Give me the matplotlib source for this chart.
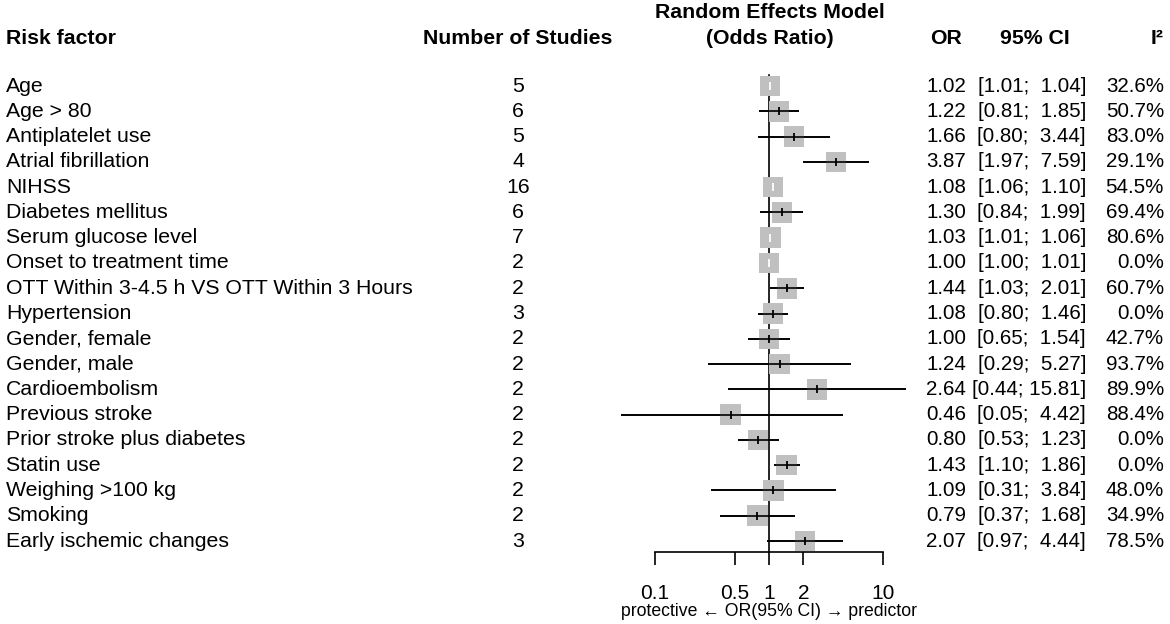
import math
import matplotlib.pyplot as plt
from matplotlib.transforms import blended_transform_factory

plt.rcParams['font.family'] = ['Liberation Sans', 'DejaVu Sans']

factors = ["Age", "Age > 80", "Antiplatelet use", "Atrial fibrillation", "NIHSS",
           "Diabetes mellitus", "Serum glucose level", "Onset to treatment time",
           "OTT Within 3-4.5 h VS OTT Within 3 Hours", "Hypertension", "Gender, female",
           "Gender, male", "Cardioembolism", "Previous stroke", "Prior stroke plus diabetes",
           "Statin use", "Weighing >100 kg", "Smoking", "Early ischemic changes"]
n_studies = [5, 6, 5, 4, 16, 6, 7, 2, 2, 3, 2, 2, 2, 2, 2, 2, 2, 2, 3]
odds = [1.02, 1.22, 1.66, 3.87, 1.08, 1.30, 1.03, 1.00, 1.44, 1.08, 1.00, 1.24, 2.64,
        0.46, 0.80, 1.43, 1.09, 0.79, 2.07]
lower = [1.01, 0.81, 0.80, 1.97, 1.06, 0.84, 1.01, 1.00, 1.03, 0.80, 0.65, 0.29, 0.44,
         0.05, 0.53, 1.10, 0.31, 0.37, 0.97]
upper = [1.04, 1.85, 3.44, 7.59, 1.10, 1.99, 1.06, 1.01, 2.01, 1.46, 1.54, 5.27, 15.81,
         4.42, 1.23, 1.86, 3.84, 1.68, 4.44]
i2 = [32.6, 50.7, 83.0, 29.1, 54.5, 69.4, 80.6, 0.0, 60.7, 0.0, 42.7, 93.7, 89.9,
      88.4, 0.0, 0.0, 48.0, 34.9, 78.5]
tick_vals = [0.1, 0.5, 1, 2, 10]
tick_labels = ["0.1", "0.5", "1", "2", "10"]

W, H = 1170, 624
row0, step = 86, 25.28   # pixel y of first row, row spacing
x1, decade = 769, 114    # pixel x of OR = 1, pixels per decade


def row(py):
    # pixel y -> row coordinate
    return (py - row0) / step


def fx(px):
    return px / W


fig = plt.figure(figsize=(W / 100, H / 100), dpi=100)
ax_l, ax_r = 600, 940
ax = fig.add_axes([ax_l / W, 0, (ax_r - ax_l) / W, 1])
ax.set_xscale('log')
ax.set_xlim(10 ** ((ax_l - x1) / decade), 10 ** ((ax_r - x1) / decade))
ax.set_ylim(row(H), row(0))
ax.patch.set_alpha(0)
for s in ['top', 'left', 'right']:
    ax.spines[s].set_visible(False)
ax.spines['bottom'].set_position(('data', row(552)))
ax.spines['bottom'].set_bounds(0.1, 10)
ax.spines['bottom'].set_linewidth(1.2)
ax.set_yticks([])
ax.set_xticks(tick_vals)
ax.set_xticklabels(tick_labels)
ax.minorticks_off()
ax.tick_params(axis='x', direction='out', length=9.4, width=1.2, pad=13.5, labelsize=15)

ys = list(range(len(factors)))
box = 14.8  # box side in points

# reference line at OR = 1
ax.plot([1, 1], [row(75), row(552)], color='black', lw=1.2, zorder=1)

for y, lo, hi in zip(ys, lower, upper):
    ax.plot([lo, hi], [y, y], color='black', lw=1.2, zorder=2, solid_capstyle='butt')
ax.scatter(odds, ys, marker='s', s=box ** 2, color='#c0c0c0', edgecolors='none', zorder=3)
for y, o, lo, hi in zip(ys, odds, lower, upper):
    # CI narrower than the box -> drawn in white inside it
    inside = decade * (math.log10(hi) - math.log10(lo)) < 20
    if not inside:
        ax.plot([lo, hi], [y, y], color='black', lw=1.2, zorder=4, solid_capstyle='butt')
    ax.plot([o], [y], marker='|', markersize=6, mew=1.3,
            color='white' if inside else 'black', zorder=5)

tr = blended_transform_factory(fig.transFigure, ax.transData)
fs = 15.3
fs_num = 14.8

# headers
hy = row(38)
hdr = dict(transform=tr, fontsize=fs, fontweight='bold', va='center')
ax.text(fx(6), hy, "Risk factor", ha='left', **hdr)
ax.text(fx(518), hy, "Number of Studies", ha='center', **hdr)
ax.text(fx(770), row(13), "Random Effects Model", ha='center', **hdr)
ax.text(fx(770), hy, "(Odds Ratio)", ha='center', **hdr)
ax.text(fx(946), hy, "OR", ha='center', **hdr)
ax.text(fx(1035), hy, "95% CI", ha='center', **hdr)
ax.text(fx(1157), hy, "I²", ha='center', **hdr)

cell = dict(transform=tr, fontsize=fs, va='center')
num = dict(transform=tr, fontsize=fs_num, va='center')
for y, name, n, o, lo, hi, h in zip(ys, factors, n_studies, odds, lower, upper, i2):
    ax.text(fx(6), y, name, ha='left', **cell)
    ax.text(fx(518), y, str(n), ha='center', **cell)
    ax.text(fx(966), y, f"{o:.2f}", ha='right', **num)
    ax.text(fx(1086), y, f"[{lo:.2f}; {hi:5.2f}]", ha='right', **num)
    ax.text(fx(1164), y, f"{h:.1f}%", ha='right', **num)

ax.text(1, row(611), "protective \u2190 OR(95% CI) \u2192 predictor", fontsize=12.7,
        ha='center', va='center')

fig.savefig('out.png', dpi=100)
